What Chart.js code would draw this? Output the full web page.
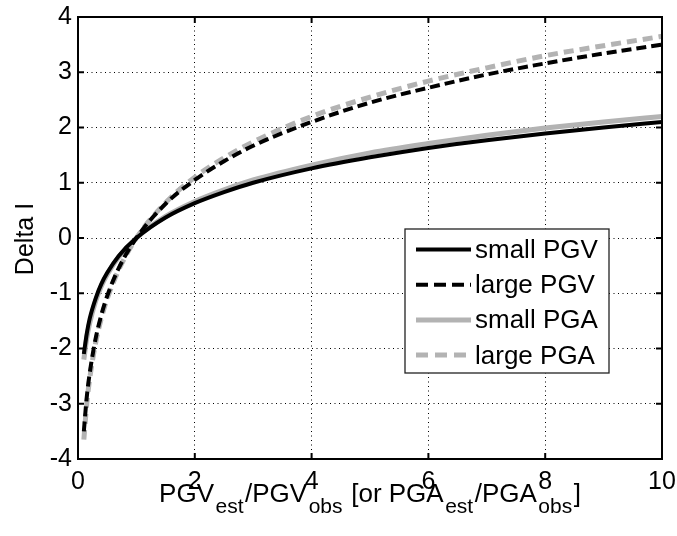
<!DOCTYPE html>
<html>
<head>
<meta charset="utf-8">
<script src="https://cdn.jsdelivr.net/npm/chart.js@4/dist/chart.umd.min.js"></script>
<style>
  html, body { margin: 0; padding: 0; background: #fff; }
  #wrap { width: 677px; height: 536px; }
</style>
</head>
<body>
<div id="wrap"><canvas id="chart" width="677" height="536"></canvas></div>
<script>
var ratio = [0.1, 0.15, 0.2, 0.3, 0.4, 0.5, 0.7, 1, 1.5, 2, 2.5, 3, 4, 5, 6, 7, 8, 9, 10];
var smallPGV = [-2.1, -1.73, -1.46, -1.1, -0.83, -0.63, -0.32, 0, 0.37, 0.63, 0.83, 1.0, 1.26, 1.46, 1.63, 1.77, 1.89, 2.0, 2.1];
var largePGV = [-3.5, -2.88, -2.45, -1.83, -1.39, -1.05, -0.54, 0, 0.62, 1.05, 1.39, 1.67, 2.1, 2.45, 2.72, 2.96, 3.16, 3.34, 3.5];
var smallPGA = [-2.2, -1.81, -1.54, -1.15, -0.87, -0.66, -0.34, 0, 0.39, 0.66, 0.87, 1.05, 1.32, 1.54, 1.71, 1.86, 1.99, 2.1, 2.2];
var largePGA = [-3.65, -3.0, -2.55, -1.91, -1.45, -1.1, -0.57, 0, 0.64, 1.1, 1.45, 1.74, 2.2, 2.55, 2.84, 3.08, 3.3, 3.48, 3.65];
var seriesNames = ["small PGV", "large PGV", "small PGA", "large PGA"];
var xTicks = [0, 2, 4, 6, 8, 10];
var yTicks = [-4, -3, -2, -1, 0, 1, 2, 3, 4];

var FONT = "Liberation Sans, Arial, Helvetica, sans-serif";
var GRAY = "#b3b3b3";

function pts(ys) {
  return ratio.map(function (x, i) { return { x: x, y: ys[i] }; });
}

function makeSet(label, ys, color, width, dash, legendDash) {
  return {
    label: label,
    data: pts(ys),
    showLine: true,
    borderColor: color,
    backgroundColor: color,
    borderWidth: width,
    borderDash: dash,
    legendDash: legendDash,
    pointRadius: 0,
    cubicInterpolationMode: "monotone",
    fill: false,
  };
}

// box, inward ticks, legend and axis titles (MATLAB look)
var matlabPlugin = {
  id: "matlab",
  afterDatasetsDraw: function (chart) {
    var ctx = chart.ctx;
    var a = chart.chartArea;
    var xs = chart.scales.x;
    var ys = chart.scales.y;
    ctx.save();
    ctx.strokeStyle = "#000";
    ctx.lineWidth = 2;
    ctx.setLineDash([]);
    ctx.strokeRect(a.left, a.top, a.right - a.left, a.bottom - a.top);
    ctx.beginPath();
    xTicks.forEach(function (v) {
      var px = xs.getPixelForValue(v);
      ctx.moveTo(px, a.bottom); ctx.lineTo(px, a.bottom - 6);
      ctx.moveTo(px, a.top); ctx.lineTo(px, a.top + 6);
    });
    yTicks.forEach(function (v) {
      var py = ys.getPixelForValue(v);
      ctx.moveTo(a.left, py); ctx.lineTo(a.left + 6, py);
      ctx.moveTo(a.right, py); ctx.lineTo(a.right - 6, py);
    });
    ctx.stroke();

    // legend
    var bx = a.right - 257, by = a.top + 212, bw = 204, bh = 144;
    ctx.fillStyle = "#fff";
    ctx.fillRect(bx, by, bw, bh);
    ctx.lineWidth = 1.3;
    ctx.strokeStyle = "#222";
    ctx.strokeRect(bx, by, bw, bh);
    ctx.font = "26px " + FONT;
    ctx.textBaseline = "alphabetic";
    ctx.textAlign = "left";
    chart.data.datasets.forEach(function (ds, i) {
      var base = by + 29 + i * 35.2;
      var ly = base - 8.5;
      ctx.strokeStyle = ds.borderColor;
      ctx.lineWidth = ds.borderWidth;
      ctx.setLineDash(ds.legendDash);
      ctx.beginPath();
      ctx.moveTo(bx + 11, ly);
      ctx.lineTo(bx + 66, ly);
      ctx.stroke();
      ctx.setLineDash([]);
      ctx.fillStyle = "#000";
      ctx.fillText(ds.label, bx + 70, base);
    });
    ctx.restore();
  },
  afterDraw: function (chart) {
    var ctx = chart.ctx;
    var a = chart.chartArea;
    ctx.save();
    ctx.fillStyle = "#000";
    ctx.textBaseline = "alphabetic";

    // y title
    ctx.save();
    ctx.translate(33, (a.top + a.bottom) / 2 + 1);
    ctx.rotate(-Math.PI / 2);
    ctx.font = "25px " + FONT;
    ctx.textAlign = "center";
    ctx.fillText("Delta I", 0, 0);
    ctx.restore();

    // x title with subscripts
    var parts = [
      ["PGV", 0], ["est", 1], ["/PGV", 0], ["obs", 1],
      [" [or PGA", 0], ["est", 1], ["/PGA", 0], ["obs", 1], ["]", 0]
    ];
    var main = "26px " + FONT, sub = "21px " + FONT;
    var total = 0;
    parts.forEach(function (p) {
      ctx.font = p[1] ? sub : main;
      total += ctx.measureText(p[0]).width + (p[1] ? 3 : 0);
    });
    var x = (a.left + a.right) / 2 - total / 2;
    var base = a.bottom + 43;
    ctx.textAlign = "left";
    parts.forEach(function (p) {
      ctx.font = p[1] ? sub : main;
      ctx.fillText(p[0], x + (p[1] ? 1.5 : 0), base + (p[1] ? 11 : 0));
      x += ctx.measureText(p[0]).width + (p[1] ? 3 : 0);
    });
    ctx.restore();
  },
};

var chartConfig = {
  type: "scatter",
  data: {
    datasets: [
      makeSet(seriesNames[0], smallPGV, "#000", 4, [], []),
      makeSet(seriesNames[1], largePGV, "#000", 4, [10, 5], [12, 6]),
      makeSet(seriesNames[2], smallPGA, GRAY, 5, [], []),
      makeSet(seriesNames[3], largePGA, GRAY, 5, [10, 6], [12, 7]),
    ],
  },
  options: {
    responsive: false,
    animation: false,
    devicePixelRatio: 1,
    layout: { padding: { left: 0, top: 17, right: 15, bottom: 0 } },
    plugins: {
      legend: { display: false },
      tooltip: { enabled: false },
    },
    scales: {
      x: {
        type: "linear",
        min: 0,
        max: 10,
        afterFit: function (s) {
          s.height = 77;
          s.paddingLeft = 0;
          s.paddingRight = 0;
        },
        afterBuildTicks: function (s) { s.ticks = xTicks.map(function (v) { return { value: v }; }); },
        border: { display: false, dash: [1, 3.5] },
        grid: { color: "#000", lineWidth: 1, drawTicks: false },
        ticks: {
          color: "#000",
          padding: 8,
          maxRotation: 0,
          font: { size: 25, family: FONT },
        },
      },
      y: {
        type: "linear",
        min: -4,
        max: 4,
        afterFit: function (s) {
          s.width = 78;
          s.paddingTop = 0;
          s.paddingBottom = 0;
        },
        afterBuildTicks: function (s) { s.ticks = yTicks.map(function (v) { return { value: v }; }); },
        border: { display: false, dash: [1, 3.5] },
        grid: { color: "#000", lineWidth: 1, drawTicks: false },
        ticks: {
          color: "#000",
          padding: 6,
          font: { size: 25, family: FONT },
        },
      },
    },
  },
  plugins: [matlabPlugin],
};

var chartInstance = new Chart(document.getElementById("chart").getContext("2d"), chartConfig);
</script>
</body>
</html>
